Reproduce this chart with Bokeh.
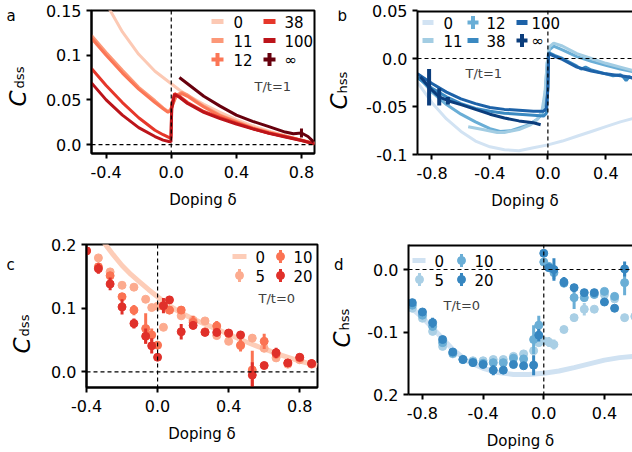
import math
from bokeh.plotting import figure
from bokeh.models import Range1d, FixedTicker, Span, Label
from bokeh.layouts import row, column
from bokeh.embed import file_html
from bokeh.resources import INLINE

FONT = "DejaVu Sans"

# ---------------- data: panel a  (C_dss, T/t = 1) ----------------
a_x_u0 = [-0.49, -0.45, -0.4, -0.375, -0.3, -0.2, -0.1, 0.0, 0.05, 0.1, 0.2, 0.3, 0.4, 0.5, 0.6, 0.7, 0.8, 0.88]
a_y_u0 = [0.19, 0.175, 0.158, 0.150, 0.126, 0.101, 0.082, 0.068, 0.061, 0.055, 0.045, 0.036, 0.028, 0.021, 0.015, 0.010, 0.005, 0.002]
a_x_u11 = [-0.49, -0.4, -0.3, -0.2, -0.1, -0.05, -0.02, -0.005, 0.01, 0.03, 0.065, 0.1, 0.15, 0.2, 0.3, 0.4, 0.5, 0.6, 0.7, 0.8, 0.88]
a_y_u11 = [0.122, 0.103, 0.083, 0.064, 0.049, 0.041, 0.037, 0.039, 0.046, 0.055, 0.0585, 0.0555, 0.049, 0.043, 0.033, 0.026, 0.019, 0.014, 0.0095, 0.005, 0.001]
a_y_u12 = [0.119, 0.100, 0.080, 0.062, 0.047, 0.040, 0.036, 0.038, 0.045, 0.054, 0.057, 0.054, 0.048, 0.042, 0.032, 0.025, 0.018, 0.013, 0.009, 0.0045, 0.0005]
a_x_u38 = [-0.49, -0.4, -0.3, -0.2, -0.1, -0.05, -0.015, -0.002, 0.003, 0.02, 0.05, 0.1, 0.15, 0.2, 0.3, 0.4, 0.5, 0.6, 0.7, 0.8, 0.88]
a_y_u38 = [0.085, 0.066, 0.047, 0.030, 0.016, 0.011, 0.008, 0.007, 0.045, 0.057, 0.054, 0.047, 0.042, 0.037, 0.030, 0.024, 0.018, 0.013, 0.009, 0.005, 0.001]
a_y_u100 = [0.069, 0.050, 0.033, 0.019, 0.009, 0.005, 0.0035, 0.003, 0.040, 0.056, 0.053, 0.046, 0.041, 0.036, 0.029, 0.023, 0.0175, 0.0125, 0.0085, 0.0045, 0.0008]
a_x_inf = [0.05, 0.1, 0.2, 0.3, 0.4, 0.5, 0.6, 0.7, 0.75, 0.8, 0.84, 0.875]
a_y_inf = [0.075, 0.068, 0.054, 0.043, 0.033, 0.026, 0.020, 0.014, 0.012, 0.013, 0.009, 0.003]
a_e_inf = [0, 0, 0, 0, 0, 0, 0, 0, 0, 0.005, 0, 0]

# ---------------- data: panel b  (C_hss, T/t = 1) ----------------
b_x_u0 = [-0.9, -0.8, -0.7, -0.6, -0.5, -0.4, -0.3, -0.2, -0.1, 0.0, 0.1, 0.2, 0.3, 0.4, 0.5, 0.6]
b_y_u0 = [-0.025, -0.046, -0.063, -0.076, -0.086, -0.092, -0.095, -0.096, -0.093, -0.090, -0.086, -0.081, -0.076, -0.071, -0.066, -0.062]
b_x_u11 = [-0.55, -0.45, -0.35, -0.3, -0.2, -0.12, -0.07, -0.04, -0.02, -0.005, 0.01, 0.04, 0.1, 0.2, 0.3, 0.4, 0.5, 0.6]
b_y_u11 = [-0.071, -0.074, -0.077, -0.077, -0.074, -0.069, -0.063, -0.054, -0.035, -0.005, 0.012, 0.016, 0.013, 0.005, 0.000, -0.005, -0.009, -0.013]
b_x_u12 = [-0.9, -0.8, -0.7, -0.6, -0.5, -0.4, -0.33, -0.25, -0.15, -0.08, -0.04, -0.02, -0.005, 0.01, 0.04, 0.1, 0.2, 0.3, 0.4, 0.5, 0.6]
b_y_u12 = [-0.018, -0.035, -0.048, -0.058, -0.066, -0.073, -0.076, -0.075, -0.070, -0.064, -0.058, -0.040, -0.005, 0.009, 0.013, 0.009, 0.002, -0.003, -0.007, -0.011, -0.014]
b_x_u38 = [-0.9, -0.8, -0.7, -0.6, -0.5, -0.4, -0.3, -0.2, -0.1, -0.03, -0.01, 0.0, 0.005, 0.02, 0.05, 0.1, 0.15, 0.2, 0.23, 0.26, 0.3, 0.35, 0.4, 0.45, 0.5, 0.52, 0.54, 0.56, 0.6]
b_y_u38 = [-0.020, -0.031, -0.040, -0.047, -0.052, -0.055, -0.057, -0.058, -0.059, -0.060, -0.057, -0.030, 0.006, 0.005, 0.003, 0.000, -0.004, -0.008, -0.011, -0.009, -0.012, -0.014, -0.016, -0.018, -0.017, -0.019, -0.023, -0.019, -0.021]
b_x_u100 = [-0.9, -0.8, -0.7, -0.6, -0.5, -0.4, -0.3, -0.2, -0.1, -0.03, -0.01, 0.0, 0.005, 0.02, 0.05, 0.1, 0.2, 0.3, 0.4, 0.5, 0.55, 0.6]
b_y_u100 = [-0.016, -0.026, -0.035, -0.042, -0.047, -0.051, -0.053, -0.054, -0.055, -0.055, -0.052, -0.030, 0.005, 0.004, 0.002, -0.001, -0.009, -0.013, -0.016, -0.018, -0.019, -0.021]
b_x_inf = [-0.88, -0.82, -0.75, -0.69, -0.6, -0.5, -0.4, -0.3, -0.2, -0.1, -0.05]
b_y_inf = [-0.019, -0.030, -0.040, -0.044, -0.048, -0.053, -0.058, -0.062, -0.065, -0.067, -0.069]
b_e_inf = [0, 0.019, 0.009, 0.004, 0, 0, 0, 0, 0, 0, 0]

# ---------------- data: panel c  (C_dss, T/t = 0) ----------------
c_x_u0 = [-0.3, -0.25, -0.2, -0.15, -0.1, -0.05, 0.0, 0.05, 0.1, 0.15, 0.2, 0.3, 0.4, 0.5, 0.6, 0.7, 0.8, 0.9]
c_y_u0 = [0.2025, 0.184, 0.167, 0.153, 0.141, 0.129, 0.118, 0.107, 0.098, 0.090, 0.083, 0.071, 0.059, 0.047, 0.036, 0.026, 0.017, 0.010]
c_x = [-0.4, -0.333, -0.267, -0.2, -0.133, -0.067, -0.033, 0.0, 0.033, 0.067, 0.133, 0.2, 0.267, 0.333, 0.4, 0.467, 0.533, 0.6, 0.667, 0.733, 0.8, 0.867]
c_y_u5 = [0.19, 0.179, 0.157, 0.136, 0.133, 0.114, 0.101, 0.103, 0.070, 0.097, 0.088, 0.081, 0.080, 0.057, 0.048, 0.041, 0.053, 0.037, 0.022, 0.012, 0.019, 0.012]
c_e_u5 = [0.004, 0.004, 0.004, 0.004, 0.003, 0.004, 0.003, 0.003, 0.004, 0.004, 0.004, 0.004, 0.003, 0.004, 0.004, 0.004, 0.006, 0.004, 0.003, 0.003, 0.003, 0.003]
c_y_u10 = [0.19, 0.165, 0.151, 0.118, 0.097, 0.068, 0.058, 0.042, 0.103, 0.097, 0.097, 0.078, 0.063, 0.072, 0.060, 0.042, 0.003, 0.048, 0.028, 0.014, 0.022, 0.013]
c_e_u10 = [0.004, 0.005, 0.006, 0.005, 0.008, 0.024, 0.010, 0.004, 0.006, 0.006, 0.006, 0.010, 0.004, 0.008, 0.004, 0.010, 0.030, 0.012, 0.007, 0.003, 0.003, 0.003]
c_y_u20 = [0.19, 0.162, 0.138, 0.102, 0.076, 0.056, 0.041, 0.023, 0.104, 0.113, 0.063, 0.073, 0.062, 0.062, 0.061, 0.058, -0.005, 0.010, 0.030, 0.014, 0.023, 0.013]
c_e_u20 = [0.004, 0.008, 0.010, 0.012, 0.008, 0.012, 0.012, 0.004, 0.012, 0.006, 0.012, 0.006, 0.004, 0.006, 0.004, 0.006, 0.020, 0.004, 0.008, 0.003, 0.003, 0.003]

# ---------------- data: panel d  (C_hss, T/t = 0) ----------------
d_x_u0 = [-0.89, -0.8, -0.7, -0.6, -0.5, -0.4, -0.3, -0.2, -0.1, 0.0, 0.1, 0.2, 0.3, 0.4, 0.5, 0.6]
d_y_u0 = [-0.058, -0.077, -0.102, -0.128, -0.147, -0.158, -0.165, -0.168, -0.168, -0.166, -0.1625, -0.157, -0.151, -0.145, -0.141, -0.139]
d_x = [-0.867, -0.8, -0.733, -0.667, -0.6, -0.533, -0.467, -0.4, -0.333, -0.267, -0.2, -0.133, -0.067, -0.033, 0.0, 0.033, 0.067, 0.133, 0.2, 0.267, 0.333, 0.4, 0.467, 0.533, 0.6]
d_y_u5 = [-0.062, -0.078, -0.099, -0.123, -0.135, -0.144, -0.146, -0.146, -0.144, -0.144, -0.139, -0.135, -0.130, -0.117, -0.114, -0.116, -0.120, -0.096, -0.077, -0.0635, -0.0635, -0.040, -0.047, -0.077, -0.075]
d_e_u5 = [0.003, 0.003, 0.004, 0.003, 0.003, 0.003, 0.003, 0.003, 0.003, 0.003, 0.003, 0.003, 0.004, 0.004, 0.003, 0.008, 0.008, 0.003, 0.006, 0.010, 0.003, 0.003, 0.003, 0.006, 0.004]
d_y_u10 = [-0.057, -0.073, -0.091, -0.117, -0.134, -0.144, -0.148, -0.150, -0.149, -0.149, -0.142, -0.143, -0.112, -0.089, 0.012, 0.005, -0.005, -0.022, -0.045, -0.045, -0.040, -0.035, -0.043, -0.021]
d_e_u10 = [0.004, 0.004, 0.006, 0.004, 0.003, 0.003, 0.003, 0.003, 0.004, 0.004, 0.004, 0.004, 0.023, 0.015, 0.004, 0.006, 0.010, 0.004, 0.018, 0.005, 0.004, 0.004, 0.006, 0.020]
d_y_u20 = [-0.053, -0.068, -0.085, -0.112, -0.132, -0.144, -0.149, -0.152, -0.161, -0.161, -0.152, -0.154, -0.153, -0.105, 0.026, 0.003, 0.000, -0.020, -0.029, -0.037, -0.037, -0.052, -0.062, 0.001]
d_e_u20 = [0.004, 0.004, 0.008, 0.004, 0.003, 0.003, 0.003, 0.004, 0.008, 0.005, 0.004, 0.005, 0.016, 0.010, 0.003, 0.005, 0.018, 0.008, 0.006, 0.004, 0.004, 0.003, 0.003, 0.012]

# tick values / labels
a_xticks = [-0.4, 0.0, 0.4, 0.8]; a_xlabels = ["-0.4", "0.0", "0.4", "0.8"]
a_yticks = [0.0, 0.05, 0.1, 0.15]; a_ylabels = ["0.0", "0.05", "0.1", "0.15"]
b_xticks = [-0.8, -0.4, 0.0, 0.4]; b_xlabels = ["-0.8", "-0.4", "0.0", "0.4"]
b_yticks = [-0.1, -0.05, 0.0, 0.05]; b_ylabels = ["-0.1", "-0.05", "0.0", "0.05"]
c_xticks = [-0.4, 0.0, 0.4, 0.8]; c_xlabels = ["-0.4", "0.0", "0.4", "0.8"]
c_yticks = [0.0, 0.1, 0.2]; c_ylabels = ["0.0", "0.1", "0.2"]
d_xticks = [-0.8, -0.4, 0.0, 0.4]; d_xlabels = ["-0.8", "-0.4", "0.0", "0.4"]
d_yticks = [-0.2, -0.1, 0.0]; d_ylabels = ["0.2", "-0.1", "0.0"]

RED = {"0": "#fcc9b4", "11": "#fc9878", "12": "#fb7656", "38": "#e6372a", "100": "#bc141a", "inf": "#67000d"}
BLUE = {"0": "#d2e3f3", "11": "#a3cde3", "12": "#6aaed6", "38": "#3a89c1", "100": "#1d62a8", "inf": "#0b3d7c"}
RED0 = {"0": "#fdcdb8", "5": "#fcab8f", "10": "#fb7353", "20": "#e0302a"}
BLUE0 = {"0": "#d0e2f2", "5": "#a9cfe5", "10": "#6aaed6", "20": "#3686c0"}


def make_panel(fig_box, frame_box, xr, yr, xt, xl, yt, yl, full_box, xl_so):
    fx, fy, fw, fh = fig_box
    l, t, r, b = frame_box
    p = figure(frame_width=r - l, frame_height=b - t,
               min_border_left=l - fx, min_border_right=fx + fw - r,
               min_border_top=t - fy, min_border_bottom=fy + fh - b,
               x_range=Range1d(*xr), y_range=Range1d(*yr),
               output_backend="svg", toolbar_location=None)
    p.extra_x_ranges = {"px": Range1d(l, r)}
    p.extra_y_ranges = {"px": Range1d(b, t)}
    p.grid.visible = False
    p.background_fill_color = "white"
    p.border_fill_color = "white"
    p.xaxis.ticker = FixedTicker(ticks=xt)
    p.xaxis.major_label_overrides = dict(zip(xt, xl))
    p.yaxis.ticker = FixedTicker(ticks=yt)
    p.yaxis.major_label_overrides = dict(zip(yt, yl))
    for ax in p.axis:
        ax.axis_line_width = 2
        ax.axis_line_color = "black"
        ax.major_tick_line_width = 2
        ax.major_tick_out = 5
        ax.major_tick_in = 0
        ax.minor_tick_line_color = None
        ax.major_label_text_font = FONT
        ax.major_label_text_font_size = "16px"
        ax.major_label_text_color = "black"
    p.xaxis.major_label_standoff = 7
    p.yaxis.major_label_standoff = 5
    p.xaxis.axis_label = "Doping δ"
    p.xaxis.axis_label_text_font = FONT
    p.xaxis.axis_label_text_font_size = "15px"
    p.xaxis.axis_label_text_font_style = "normal"
    p.xaxis.axis_label_text_color = "black"
    p.xaxis.axis_label_standoff = xl_so
    if full_box:
        p.outline_line_color = "black"
        p.outline_line_width = 2
    else:
        p.outline_line_color = None
        p.add_layout(Span(location=yr[1], dimension="width", line_color="black", line_width=4))
    p.add_layout(Span(location=0, dimension="height", line_color="black", line_dash="4 3", line_width=1.2))
    p.add_layout(Span(location=0, dimension="width", line_color="black", line_dash="4 3", line_width=1.2))
    return p


def label_fig(x0, x1, y0, y1, letter, lx, ly, sub, cx, cy, sx, sy):
    """Narrow strip left of a panel carrying the panel letter and the rotated y label."""
    f = figure(frame_width=x1 - x0, frame_height=y1 - y0, x_range=Range1d(x0, x1), y_range=Range1d(y1, y0),
               min_border=0, x_axis_location=None, y_axis_location=None,
               output_backend="svg", toolbar_location=None)
    f.grid.visible = False
    f.outline_line_color = None
    f.background_fill_color = "white"
    f.border_fill_color = "white"
    f.add_layout(Label(x=lx, y=ly, text=letter, text_font=FONT, text_font_size="15px",
                       text_align="left", text_baseline="middle", text_color="black"))
    f.add_layout(Label(x=cx, y=cy, text="C", text_font=FONT, text_font_size="23px", text_font_style="italic",
                       text_align="center", text_baseline="middle", text_color="black", angle=math.pi / 2))
    f.add_layout(Label(x=sx, y=sy, text=sub, text_font=FONT, text_font_size="13px",
                       text_align="center", text_baseline="middle", text_color="black", angle=math.pi / 2))
    return f


def txt(p, x, y, s, size="15px", align="left", baseline="middle", color="black"):
    p.add_layout(Label(x=x, y=y, x_range_name="px", y_range_name="px", text=s, text_font=FONT,
                       text_font_size=size, text_align=align, text_baseline=baseline, text_color=color))


def leg_line(p, x0, y, color, w=12, lw=5):
    p.line([x0, x0 + w], [y, y], line_width=lw, color=color, x_range_name="px", y_range_name="px")


def leg_plus(p, x0, y, color, w=12, h=13, lw=4):
    p.line([x0, x0 + w], [y, y], line_width=lw, color=color, x_range_name="px", y_range_name="px")
    p.line([x0 + w / 2, x0 + w / 2], [y - h / 2, y + h / 2], line_width=lw, color=color,
           x_range_name="px", y_range_name="px")


def leg_dot(p, xc, y, color, h=13, size=8):
    p.line([xc, xc], [y - h / 2, y + h / 2], line_width=3, color=color, x_range_name="px", y_range_name="px")
    p.scatter([xc], [y], size=size, color=color, x_range_name="px", y_range_name="px")


def errbars(p, x, y, e, color, lw=3):
    p.segment(x0=x, y0=[v - d for v, d in zip(y, e)], x1=x, y1=[v + d for v, d in zip(y, e)],
              line_width=lw, color=color)


# ---------------- panel a ----------------
la = label_fig(0, 40, 0, 226, "a", 6, 5.5, "dss", 17, 88, 19, 67)
pa = make_panel((40, 0, 282, 226), (91, 10, 314, 153), (-0.49, 0.88), (-0.01, 0.15),
                a_xticks, a_xlabels, a_yticks, a_ylabels, True, 10)
pa.line(a_x_u0, a_y_u0, line_width=3, color=RED["0"])
pa.line(a_x_u11, a_y_u11, line_width=3, color=RED["11"])
pa.line(a_x_u11, a_y_u12, line_width=3, color=RED["12"])
pa.line(a_x_u38, a_y_u38, line_width=3, color=RED["38"])
pa.line(a_x_u38, a_y_u100, line_width=3, color=RED["100"])
pa.line(a_x_inf, a_y_inf, line_width=3, color=RED["inf"])
errbars(pa, a_x_inf, a_y_inf, a_e_inf, RED["inf"], lw=3)
leg_line(pa, 211, 21, RED["0"]); txt(pa, 233, 21, "0")
leg_line(pa, 211, 40, RED["11"]); txt(pa, 233, 40, "11")
leg_plus(pa, 211, 59, RED["12"]); txt(pa, 233, 59, "12")
leg_line(pa, 263, 21, RED["38"]); txt(pa, 284, 21, "38")
leg_line(pa, 263, 40, RED["100"]); txt(pa, 284, 40, "100")
leg_plus(pa, 263, 59, RED["inf"]); txt(pa, 284, 59, "∞")
txt(pa, 254, 86, "T/t=1", size="13px", color="#404040")

# ---------------- panel b ----------------
lb = label_fig(322, 358, 0, 226, "b", 337, 5, "hss", 338.5, 91, 341.5, 72)
pb = make_panel((358, 0, 274, 226), (417, 10, 632, 154), (-0.9, 0.584), (-0.1, 0.05),
                b_xticks, b_xlabels, b_yticks, b_ylabels, False, 10)
pb.line(b_x_u0, b_y_u0, line_width=3, color=BLUE["0"])
pb.line(b_x_u12, b_y_u12, line_width=3, color=BLUE["12"])
pb.line(b_x_u11, b_y_u11, line_width=3, color=BLUE["11"])
pb.line(b_x_u38, b_y_u38, line_width=3, color=BLUE["38"])
pb.line(b_x_u100, b_y_u100, line_width=3, color=BLUE["100"])
pb.line(b_x_inf, b_y_inf, line_width=3, color=BLUE["inf"])
errbars(pb, b_x_inf, b_y_inf, b_e_inf, BLUE["inf"], lw=4)
leg_line(pb, 422, 22, BLUE["0"], w=11); txt(pb, 443, 22, "0")
leg_line(pb, 422, 40, BLUE["11"], w=11); txt(pb, 443, 40, "11")
leg_plus(pb, 467, 22, BLUE["12"], w=11); txt(pb, 486, 22, "12")
leg_line(pb, 467, 40, BLUE["38"], w=11); txt(pb, 486, 40, "38")
leg_line(pb, 516, 22, BLUE["100"], w=11); txt(pb, 531, 22, "100")
leg_plus(pb, 516, 40, BLUE["inf"], w=11); txt(pb, 531, 40, "∞")
txt(pb, 465, 73, "T/t=1", size="13px", color="#404040")

# ---------------- panel c ----------------
lc = label_fig(0, 36, 226, 452, "c", 6, 246, "dss", 21.5, 327, 23.5, 307)
pc = make_panel((36, 226, 286, 226), (86, 244, 317, 387), (-0.4, 0.9), (-0.0245, 0.2),
                c_xticks, c_xlabels, c_yticks, c_ylabels, True, 10)
pc.line(c_x_u0, c_y_u0, line_width=5, color=RED0["0"])
for key, ys, es in (("5", c_y_u5, c_e_u5), ("10", c_y_u10, c_e_u10), ("20", c_y_u20, c_e_u20)):
    errbars(pc, c_x, ys, es, RED0[key])
    pc.scatter(c_x, ys, size=8, color=RED0[key])
leg_line(pc, 232, 256, RED0["0"], w=14); txt(pc, 255, 256, "0")
leg_dot(pc, 239, 275, RED0["5"]); txt(pc, 255, 275, "5")
leg_dot(pc, 280, 256, RED0["10"]); txt(pc, 293, 256, "10")
leg_dot(pc, 280, 275, RED0["20"]); txt(pc, 293, 275, "20")
txt(pc, 258, 298, "T/t=0", size="13px", color="#404040")

# ---------------- panel d ----------------
ld = label_fig(322, 360, 226, 452, "d", 333.5, 246, "hss", 341.5, 321, 343.5, 301)
pd_ = make_panel((360, 226, 272, 226), (408, 237, 632, 387), (-0.892, 0.585), (-0.2, 0.04),
                 d_xticks, d_xlabels, d_yticks, d_ylabels, False, 10)
pd_.line(d_x_u0, d_y_u0, line_width=5, color=BLUE0["0"])
for key, xs, ys, es in (("5", d_x, d_y_u5, d_e_u5), ("10", d_x[:24], d_y_u10, d_e_u10),
                        ("20", d_x[:24], d_y_u20, d_e_u20)):
    errbars(pd_, xs, ys, es, BLUE0[key])
    pd_.scatter(xs, ys, size=8, color=BLUE0[key])
leg_line(pd_, 412, 253, BLUE0["0"], w=13); txt(pd_, 434, 253, "0")
leg_dot(pd_, 419, 272, BLUE0["5"]); txt(pd_, 434, 272, "5")
leg_dot(pd_, 461, 253, BLUE0["10"]); txt(pd_, 474, 253, "10")
leg_dot(pd_, 461, 272, BLUE0["20"]); txt(pd_, 474, 272, "20")
txt(pd_, 443, 298, "T/t=0", size="13px", color="#404040")

layout = column(row(la, pa, lb, pb), row(lc, pc, ld, pd_))
open("out.html", "w").write(file_html(layout, INLINE))
